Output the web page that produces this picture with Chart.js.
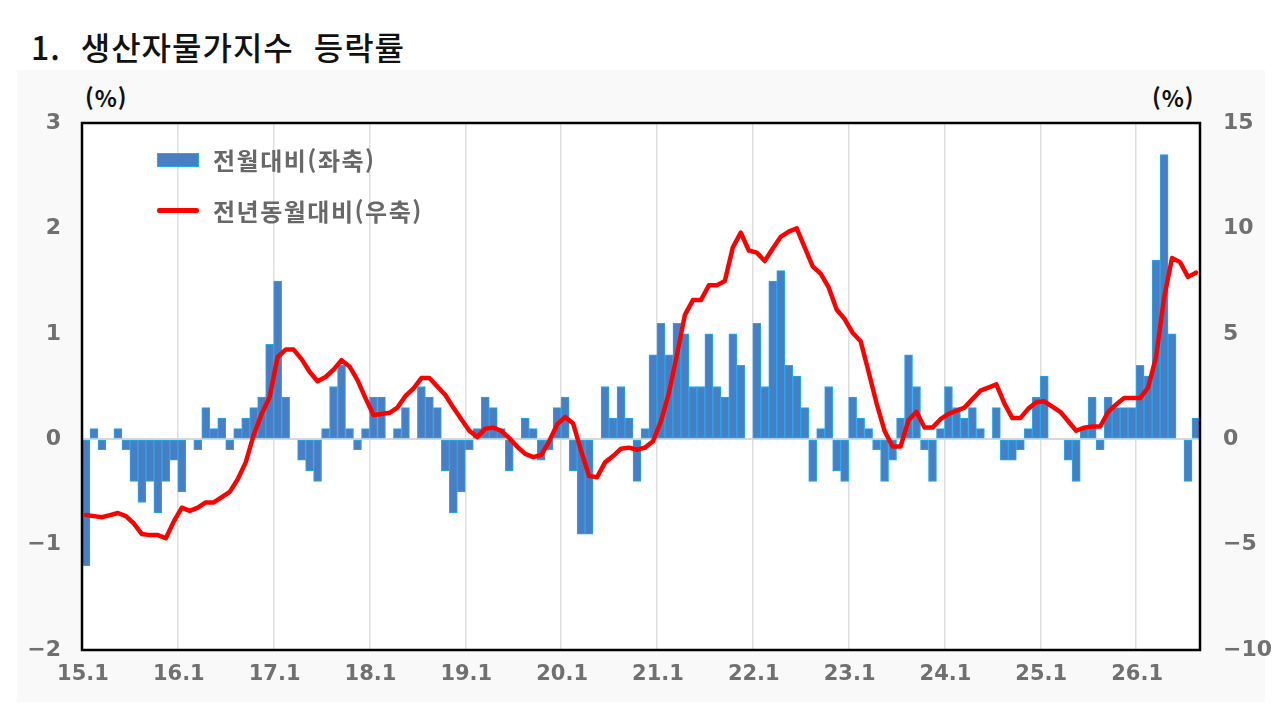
<!DOCTYPE html>
<html lang="ko">
<head>
<meta charset="utf-8">
<script src="https://cdn.jsdelivr.net/npm/chart.js@4/dist/chart.umd.min.js"></script>
<style>
  html, body { margin: 0; padding: 0; background: #ffffff; }
  body { width: 1280px; height: 707px; position: relative; overflow: hidden; font-family: "Noto Sans CJK KR", "Noto Sans", sans-serif; }
  #panel { position: absolute; left: 17px; top: 70px; width: 1248px; height: 632px; background: #f9f9f9; }
  #title { position: absolute; left: 31px; top: 26px; font-size: 32px; line-height: 40px; font-weight: 500; color: #111; white-space: pre; letter-spacing: 1px; }
  .unit { position: absolute; top: 83px; font-size: 23px; line-height: 28px; font-weight: 700; color: #111; letter-spacing: 1px; }
  #chartWrap { position: absolute; left: 0; top: 0; width: 1280px; height: 707px; }
  .legItem { position: absolute; left: 157px; height: 30px; }
  .legText { position: absolute; left: 56px; top: 0; font-size: 24px; line-height: 30px; font-weight: 700; color: #686868; white-space: nowrap; letter-spacing: 1.5px; }
</style>
</head>
<body>
<div id="panel"></div>
<div id="title">1.  생산자물가지수  등락률</div>
<div class="unit" style="left:85px;">(%)</div>
<div class="unit" style="left:1152px;">(%)</div>
<div id="chartWrap"><canvas id="c" width="1280" height="707"></canvas></div>
<div id="legend"></div>
<script>
// ---- data ----
const years = ['15','16','17','18','19','20','21','22','23','24','25','26'];
const monthsInLastYear = 8;
const yearTickLabels = ['15.1','16.1','17.1','18.1','19.1','20.1','21.1','22.1','23.1','24.1','25.1','26.1'];
const seriesNames = ['전월대비(좌축)', '전년동월대비(우축)'];

// month-on-month change (%), left axis
const momChange = [
  -1.2, 0.1, -0.1, 0, 0.1, -0.1, -0.4, -0.6, -0.4, -0.7, -0.4, -0.2,
  -0.5, 0, -0.1, 0.3, 0.1, 0.2, -0.1, 0.1, 0.2, 0.3, 0.4, 0.9,
  1.5, 0.4, 0, -0.2, -0.3, -0.4, 0.1, 0.5, 0.7, 0.1, -0.1, 0.1,
  0.4, 0.4, 0, 0.1, 0.3, 0, 0.5, 0.4, 0.3, -0.3, -0.7, -0.5,
  -0.1, 0.1, 0.4, 0.3, 0.1, -0.3, 0, 0.2, 0.1, -0.2, -0.1, 0.3,
  0.4, -0.3, -0.9, -0.9, 0, 0.5, 0.2, 0.5, 0.2, -0.4, 0.1, 0.8,
  1.1, 0.8, 1.1, 1.0, 0.5, 0.5, 1.0, 0.5, 0.4, 1.0, 0.7, 0,
  1.1, 0.5, 1.5, 1.6, 0.7, 0.6, 0.3, -0.4, 0.1, 0.5, -0.3, -0.4,
  0.4, 0.2, 0.1, -0.1, -0.4, -0.2, 0.2, 0.8, 0.5, -0.1, -0.4, 0.1,
  0.5, 0.3, 0.2, 0.3, 0.1, 0, 0.3, -0.2, -0.2, -0.1, 0.1, 0.4,
  0.6, 0, 0, -0.2, -0.4, 0.1, 0.4, -0.1, 0.4, 0.3, 0.3, 0.3,
  0.7, 0.6, 1.7, 2.7, 1.0, 0, -0.4, 0.2
];

// year-on-year change (%), right axis
const yoyChange = [
  -3.6, -3.65, -3.7, -3.6, -3.5, -3.65, -4.0, -4.5, -4.55, -4.55, -4.7, -3.9,
  -3.25, -3.4, -3.25, -3.0, -3.0, -2.75, -2.5, -1.9, -1.1, 0.2, 1.2, 2.0,
  3.9, 4.25, 4.25, 3.8, 3.2, 2.75, 2.95, 3.3, 3.75, 3.45, 2.8, 1.95,
  1.15, 1.2, 1.25, 1.5, 2.05, 2.4, 2.9, 2.9, 2.5, 2.1, 1.5, 0.95,
  0.4, 0.1, 0.5, 0.55, 0.4, 0.05, -0.35, -0.7, -0.85, -0.75, -0.1, 0.7,
  1.05, 0.75, -0.55, -1.75, -1.8, -1.1, -0.8, -0.45, -0.4, -0.5, -0.4, -0.1,
  0.85, 2.2, 4.0, 5.9, 6.6, 6.6, 7.3, 7.3, 7.5, 9.1, 9.8, 8.95,
  8.85, 8.45, 9.05, 9.6, 9.85, 10.0, 9.1, 8.2, 7.85, 7.2, 6.15, 5.7,
  5.05, 4.65, 3.2, 1.7, 0.4, -0.35, -0.35, 0.9, 1.3, 0.55, 0.55, 0.95,
  1.2, 1.35, 1.5, 1.9, 2.3, 2.45, 2.6, 1.7, 1.0, 1.0, 1.45, 1.75,
  1.8, 1.55, 1.3, 0.85, 0.4, 0.55, 0.6, 0.6, 1.3, 1.65, 1.95, 1.95,
  1.95, 2.45, 3.9, 6.7, 8.6, 8.4, 7.7, 7.9
];

// category labels (YY.M)
const categories = [];
years.forEach((y, yi) => {
  const n = yi === years.length - 1 ? monthsInLastYear : 12;
  for (let m = 1; m <= n; m++) categories.push(y + '.' + m);
});

// ---- styles ----
const barFill = '#4a7ec4';
const barEdge = '#1aaeee';
const lineColor = '#ff0000';
const tickColor = '#707070';
const tickFontY = { family: 'DejaVu Sans', weight: 'bold', size: 22 };
const tickFontX = { family: 'DejaVu Sans', weight: 'bold', size: 21 };
const fmtNum = v => (v < 0 ? '\u2212' + Math.abs(v) : String(v));

// legend (HTML, from series names)
const legend = document.getElementById('legend');
seriesNames.forEach((name, i) => {
  const item = document.createElement('div');
  item.className = 'legItem';
  item.style.top = (i === 0 ? 145 : 196) + 'px';
  const sw = document.createElement('div');
  sw.style.position = 'absolute';
  sw.style.left = '0px';
  if (i === 0) {
    sw.style.top = '8px'; sw.style.width = '40px'; sw.style.height = '12px';
    sw.style.background = barFill; sw.style.border = '1px solid ' + barEdge;
  } else {
    sw.style.top = '12px'; sw.style.width = '42px'; sw.style.height = '5px';
    sw.style.background = lineColor; sw.style.borderRadius = '2px';
  }
  const tx = document.createElement('div');
  tx.className = 'legText';
  tx.textContent = name;
  item.appendChild(sw); item.appendChild(tx);
  legend.appendChild(item);
});

const plotBg = {
  id: 'plotBg',
  beforeDraw(chart) {
    const { ctx, chartArea: a } = chart;
    ctx.save();
    ctx.fillStyle = '#ffffff';
    ctx.fillRect(a.left, a.top, a.right - a.left, a.bottom - a.top);
    ctx.restore();
  }
};
const frame = {
  id: 'frame',
  afterDraw(chart) {
    const { ctx, chartArea: a } = chart;
    ctx.save();
    ctx.strokeStyle = '#000';
    ctx.lineWidth = 2.5;
    ctx.strokeRect(a.left, a.top, a.right - a.left, a.bottom - a.top);
    ctx.restore();
  }
};

new Chart(document.getElementById('c'), {
  data: {
    labels: categories,
    datasets: [
      {
        type: 'line', label: seriesNames[1], data: yoyChange, yAxisID: 'y1',
        borderColor: lineColor, borderWidth: 4.5, pointRadius: 0, tension: 0,
        borderJoinStyle: 'round', borderCapStyle: 'round', order: 1
      },
      {
        type: 'bar', label: seriesNames[0], data: momChange, yAxisID: 'y',
        backgroundColor: barFill, borderColor: barEdge, borderWidth: 1, borderSkipped: false,
        categoryPercentage: 1, barPercentage: 1, order: 2
      }
    ]
  },
  options: {
    responsive: false,
    animation: false,
    layout: { padding: { top: 123, left: 0, right: 0, bottom: 0 } },
    plugins: { legend: { display: false }, tooltip: { enabled: false } },
    scales: {
      x: {
        type: 'category', offset: true,
        grid: {
          offset: true, drawTicks: false, lineWidth: 1.5,
          color: c => (c.index % 12 === 0 && c.index > 0 && c.index < categories.length) ? '#dedede' : 'rgba(0,0,0,0)'
        },
        border: { display: true, color: '#000', width: 2 },
        ticks: {
          autoSkip: false, maxRotation: 0, minRotation: 0, padding: 12, labelOffset: -3,
          color: tickColor, font: tickFontX,
          callback: (v, i) => (yearTickLabels.includes(categories[i]) ? categories[i] : '')
        },
        afterFit: s => { s.height = 57; }
      },
      y: {
        position: 'left', min: -2, max: 3,
        ticks: { stepSize: 1, padding: 21, color: tickColor, font: tickFontY, callback: v => fmtNum(v) },
        grid: { drawTicks: false, lineWidth: 2, color: c => (c.tick && c.tick.value === 0) ? '#d8d8d8' : 'rgba(0,0,0,0)' },
        border: { color: '#000', width: 2 },
        afterFit: s => { s.width = 82; }
      },
      y1: {
        position: 'right', min: -10, max: 15,
        ticks: { stepSize: 5, padding: 23, color: tickColor, font: tickFontY, callback: v => fmtNum(v) },
        grid: { display: false, drawTicks: false },
        border: { color: '#000', width: 2 },
        afterFit: s => { s.width = 80; }
      }
    }
  },
  plugins: [plotBg, frame]
});
</script>
</body>
</html>
